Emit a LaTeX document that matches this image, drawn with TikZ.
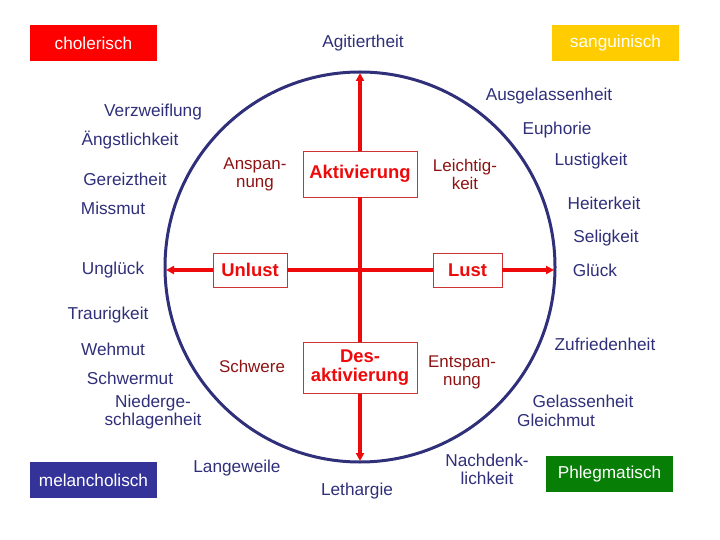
\documentclass[tikz,border=0pt]{standalone}
\usepackage{fontspec}
\setmainfont{Liberation Sans}
\usetikzlibrary{arrows.meta}

\definecolor{inkblue}{HTML}{2F2F7A}
\definecolor{axisred}{HTML}{EE0A0A}
\definecolor{boxred}{HTML}{CC3333}
\definecolor{feelred}{HTML}{8E1212}
\definecolor{sangold}{HTML}{FFCC00}
\definecolor{melblue}{HTML}{333399}
\definecolor{phlgreen}{HTML}{077F07}

\tikzset{
  word/.style={text=inkblue, font=\fontsize{17.3}{18}\selectfont, inner sep=0pt, align=center},
  feel/.style={text=feelred, font=\fontsize{17}{18}\selectfont, inner sep=0pt, align=center},
  tempbox/.style={minimum width=127bp, minimum height=36bp, inner sep=0pt, text=white, font=\fontsize{17.3}{18}\selectfont},
  axisbox/.style={draw=boxred, line width=0.8bp, fill=white, inner sep=0pt, text=axisred, align=center, font=\bfseries\fontsize{18.5}{19}\selectfont},
  axisline/.style={draw=axisred, line width=3.5bp},
  axisarrow/.style={axisline, -{Triangle[length=8bp,width=8bp]}}
}

\begin{document}
\begin{tikzpicture}[x=1bp, y=-1bp]
    \useasboundingbox (0,0) rectangle (720,540);

    \draw[inkblue, line width=3bp] (360,267) circle [radius=195bp];

    \coordinate (top) at (360,73);
    \coordinate (bottom) at (360,461);
    \coordinate (left) at (166,270);
    \coordinate (right) at (554,270);

    \node[axisbox, minimum width=114bp, minimum height=46bp] (akt) at (360,174) {Aktivierung};
    \node[axisbox, minimum width=114bp, minimum height=51bp] (desakt) at (360,368) {Des-\\aktivierung};
    \node[axisbox, minimum width=74bp, minimum height=34bp] (unlust) at (250,270) {Unlust};
    \node[axisbox, minimum width=69bp, minimum height=34bp] (lust) at (467.5,270) {Lust};

    \draw[axisline] (akt) -- (desakt);
    \draw[axisline] (unlust) -- (lust);
    \draw[axisarrow] (akt) -- (top);
    \draw[axisarrow] (desakt) -- (bottom);
    \draw[axisarrow] (unlust) -- (left);
    \draw[axisarrow] (lust) -- (right);

    \node[tempbox, fill=red] (chol) at (93.5,43) {cholerisch};
    \node[tempbox, fill=sangold] (sang) at (615.5,43) {sanguinisch};
    \node[tempbox, fill=melblue] (mel) at (93.5,480) {melancholisch};
    \node[tempbox, fill=phlgreen] (phl) at (609.5,474) {Phlegmatisch};

    \node[feel] (ansp) at (255,174) {Anspan-\\nung};
    \node[feel] (leicht) at (465,174) {Leichtig-\\keit};
    \node[feel] (schwere) at (252,366) {Schwere};
    \node[feel] (entsp) at (462,372) {Entspan-\\nung};

    \node[word] (agit) at (363,43) {Agitiertheit};
    \node[word] (ausg) at (549,96) {Ausgelassenheit};
    \node[word] (verz) at (153,112) {Verzweiflung};
    \node[word] (angst) at (130,140) {Ängstlichkeit};
    \node[word] (euph) at (557,130) {Euphorie};
    \node[word] (gereizt) at (125,179) {Gereiztheit};
    \node[word] (lustig) at (591,161) {Lustigkeit};
    \node[word] (heiter) at (604,203) {Heiterkeit};
    \node[word] (missmut) at (113,208) {Missmut};
    \node[word] (selig) at (606,238) {Seligkeit};
    \node[word] (unglueck) at (113,270) {Unglück};
    \node[word] (glueck) at (595,270) {Glück};
    \node[word] (traurig) at (108,315) {Traurigkeit};
    \node[word] (zufrieden) at (605,344) {Zufriedenheit};
    \node[word] (wehmut) at (113,349) {Wehmut};
    \node[word] (schwermut) at (130,378) {Schwermut};
    \node[word] (gelassen) at (583,401) {Gelassenheit};
    \node[word] (nieder) at (153,412) {Niederge-\\schlagenheit};
    \node[word] (gleichmut) at (556,420) {Gleichmut};
    \node[word] (langeweile) at (237,468) {Langeweile};
    \node[word] (nachdenk) at (487,469) {Nachdenk-\\lichkeit};
    \node[word] (lethargie) at (357,491) {Lethargie};
\end{tikzpicture}
\end{document}
